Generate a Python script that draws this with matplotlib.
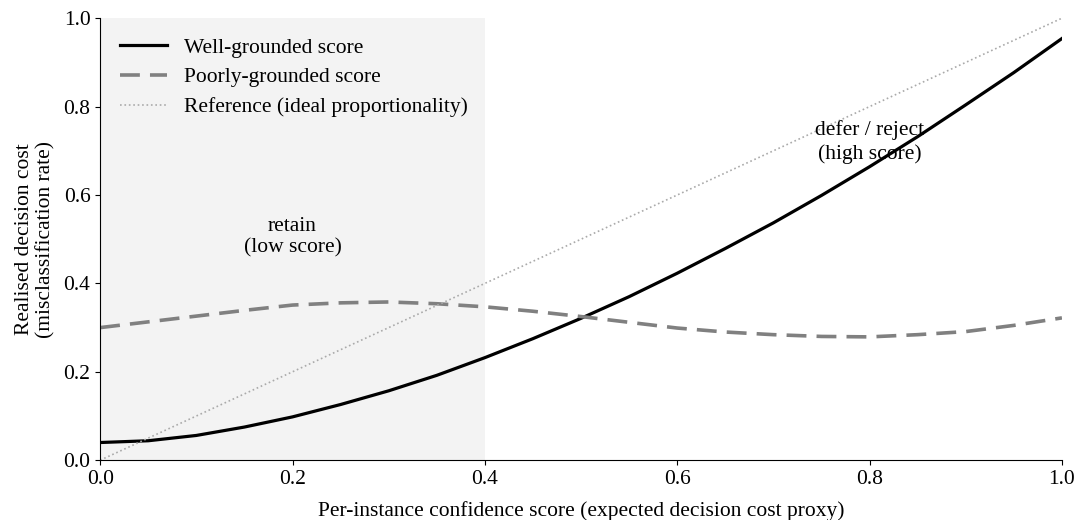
import numpy as np
import matplotlib.pyplot as plt

plt.rcParams['font.family'] = ['Liberation Serif', 'DejaVu Serif']

# confidence score grid and read-off curve values
score = [0.00, 0.05, 0.10, 0.15, 0.20, 0.25, 0.30, 0.35, 0.40, 0.45, 0.50,
         0.55, 0.60, 0.65, 0.70, 0.75, 0.80, 0.85, 0.90, 0.95, 1.00]
well = [0.040, 0.044, 0.056, 0.075, 0.098, 0.126, 0.157, 0.192, 0.232, 0.275, 0.321,
        0.370, 0.423, 0.479, 0.537, 0.599, 0.664, 0.732, 0.804, 0.877, 0.954]
poor = [0.300, 0.313, 0.326, 0.339, 0.351, 0.356, 0.358, 0.354, 0.347, 0.337, 0.325,
        0.312, 0.299, 0.290, 0.284, 0.280, 0.279, 0.284, 0.291, 0.305, 0.322]
ref = [0.0, 1.0]
threshold = 0.4

fs = 15.5
fig = plt.figure(figsize=(10.77, 5.2), dpi=100)
ax = fig.add_axes([0.093, 0.115, 0.893, 0.85])

ax.axvspan(0, threshold, color='#f3f3f3', zorder=0, lw=0)
ax.plot(score, well, color='black', lw=2.3, label='Well-grounded score')
ax.plot(score, poor, color='#808080', lw=2.6, dashes=(5.5, 2.8), label='Poorly-grounded score')
ax.plot(ref, ref, color='#aaaaaa', lw=1.2, ls=':', label='Reference (ideal proportionality)')

ax.text(0.2, 0.505, 'retain\n(low score)', ha='center', va='center', fontsize=fs,
        linespacing=1.15)
ax.text(0.80, 0.72, 'defer / reject\n(high score)', ha='center', va='center', fontsize=fs,
        linespacing=1.25)

ax.set_xlim(0, 1)
ax.set_ylim(0, 1)
ax.set_xticks(np.arange(0, 1.01, 0.2))
ax.set_yticks(np.arange(0, 1.01, 0.2))
ax.tick_params(labelsize=fs)
ax.set_xlabel('Per-instance confidence score (expected decision cost proxy)', fontsize=fs, labelpad=9)
ax.set_ylabel('Realised decision cost\n(misclassification rate)', fontsize=fs,
              linespacing=1.15, labelpad=6)
for s in ['top', 'right']:
    ax.spines[s].set_visible(False)

ax.legend(loc='upper left', frameon=False, fontsize=fs, handlelength=2.2,
          labelspacing=0.45)

fig.savefig('out.png', dpi=100)
